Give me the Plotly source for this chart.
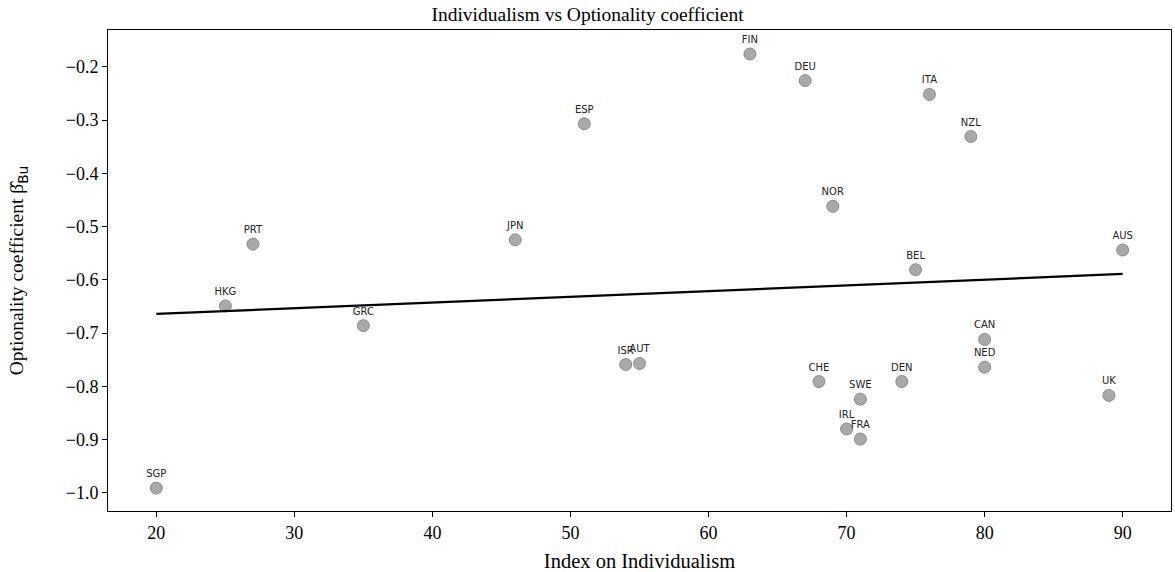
import plotly.graph_objects as go

countries = ["SGP", "HKG", "PRT", "GRC", "JPN", "ESP", "ISR", "AUT", "FIN", "DEU", "CHE",
             "NOR", "IRL", "SWE", "FRA", "DEN", "BEL", "ITA", "NZL", "CAN", "NED", "UK", "AUS"]
individualism = [20, 25, 27, 35, 46, 51, 54, 55, 63, 67, 68,
                 69, 70, 71, 71, 74, 75, 76, 79, 80, 80, 89, 90]
beta = [-0.991, -0.649, -0.533, -0.686, -0.525, -0.307, -0.759, -0.757, -0.176, -0.226, -0.791,
        -0.462, -0.880, -0.824, -0.899, -0.791, -0.581, -0.252, -0.331, -0.712, -0.764, -0.817, -0.544]
fit_x = [20, 90]
fit_y = [-0.664, -0.589]

x_ticks = [20, 30, 40, 50, 60, 70, 80, 90]
y_ticks = [-1.0, -0.9, -0.8, -0.7, -0.6, -0.5, -0.4, -0.3, -0.2]
y_ticklabels = ["\u22121.0", "\u22120.9", "\u22120.8", "\u22120.7", "\u22120.6",
                "\u22120.5", "\u22120.4", "\u22120.3", "\u22120.2"]

serif = "Liberation Serif, Times New Roman, serif"

fig = go.Figure()
fig.add_trace(go.Scatter(
    x=individualism, y=beta, mode="markers+text", text=countries,
    textposition="top center",
    textfont=dict(family="DejaVu Sans", size=10, color="#222222"),
    marker=dict(size=12, color="rgba(160,160,160,0.9)", line=dict(color="rgba(130,130,130,0.9)", width=1)),
    showlegend=False, cliponaxis=False,
))
fig.add_trace(go.Scatter(
    x=fit_x, y=fit_y, mode="lines", line=dict(color="black", width=2.2), showlegend=False,
))

fig.update_layout(
    width=1175, height=572,
    margin=dict(l=108, r=3, t=30, b=59),
    paper_bgcolor="white", plot_bgcolor="white",
    title=dict(text="Individualism vs Optionality coefficient", x=0.5, xanchor="center",
               y=0.976, yanchor="middle", font=dict(family=serif, size=19.5, color="black")),
    font=dict(family=serif, color="black"),
    xaxis=dict(range=[16.5, 93.5], tickvals=x_ticks, ticks="outside", ticklen=5, tickwidth=1,
               tickcolor="black", showgrid=False, zeroline=False, showline=True, linecolor="black",
               linewidth=1, mirror=True, tickfont=dict(family=serif, size=18),
               title=dict(text="Index on Individualism", font=dict(family=serif, size=20.5), standoff=12)),
    yaxis=dict(range=[-1.034, -0.131], tickvals=y_ticks, ticktext=y_ticklabels, ticks="outside",
               ticklen=5, tickwidth=1, tickcolor="black", showgrid=False, zeroline=False,
               showline=True, linecolor="black", linewidth=1, mirror=True,
               tickfont=dict(family=serif, size=18),
               title=dict(text="Optionality coefficient \u03b2\u0302<sub><span style='font-family:DejaVu Sans'>Bu</span></sub>",
                          font=dict(family=serif, size=19.5), standoff=36)),
)

fig.write_html("out.html")
